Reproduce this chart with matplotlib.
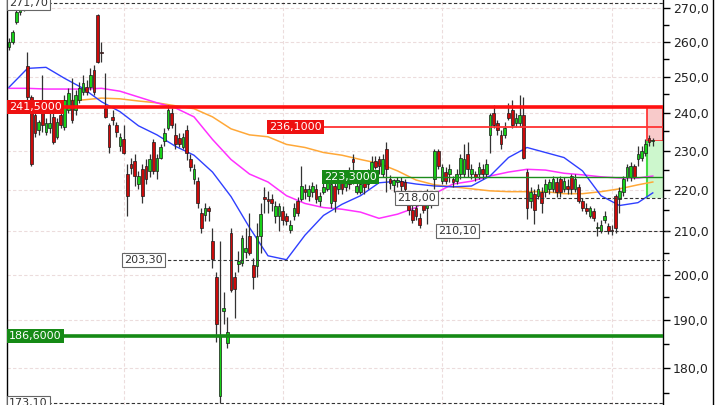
import matplotlib
matplotlib.use("Agg")
import matplotlib.pyplot as plt
import numpy as np
from matplotlib.patches import Rectangle
from matplotlib.lines import Line2D
from matplotlib.ticker import FixedLocator, NullFormatter, FuncFormatter

opens = [258.5, 260.0, 265.8, 268.8, 270.3, 253.0, 244.3, 239.4, 235.4, 240.0,
         234.9, 236.0, 238.9, 233.6, 239.4, 236.3, 240.8, 243.5, 240.8, 243.5,
         245.7, 247.0, 247.0, 251.8, 268.0, 257.0, 241.3, 236.8, 238.9, 236.8,
         231.1, 232.9, 224.0, 226.5, 227.2, 221.5, 225.2, 226.0, 224.8, 232.1,
         224.8, 228.2, 232.4, 236.0, 240.0, 234.1, 233.3, 230.8, 235.4, 227.7,
         222.7, 222.2, 214.3, 213.8, 215.5, 207.7, 199.4, 174.5, 191.9, 185.1,
         209.6, 199.4, 202.5, 202.7, 205.2, 208.9, 202.2, 202.0, 208.9, 218.4,
         217.9, 217.9, 213.6, 213.6, 214.8, 213.6, 210.4, 213.6, 217.2, 217.9,
         220.3, 218.6, 219.6, 220.3, 217.2, 219.6, 220.3, 216.7, 221.0, 220.3,
         221.8, 220.8, 222.7, 227.7, 219.6, 219.6, 222.7, 221.5, 224.0, 227.2,
         227.7, 224.0, 230.3, 222.7, 221.3, 222.0, 222.2, 222.0, 216.7, 215.0,
         215.5, 213.1, 216.7, 215.5, 216.7, 222.7, 229.8, 222.2, 224.5, 224.0,
         222.7, 222.2, 224.0, 224.0, 229.0, 224.0, 224.0, 224.0, 225.2, 224.0,
         234.1, 240.0, 237.3, 234.1, 234.1, 240.0, 240.8, 237.3, 237.3, 239.4,
         224.5, 217.2, 219.1, 218.6, 219.6, 219.6, 220.3, 220.3, 222.0, 222.7,
         220.3, 221.0, 223.5, 220.3, 220.8, 217.4, 215.5, 213.6, 214.8, 210.7,
         210.2, 212.6, 211.2, 210.4, 218.6, 217.9, 219.6, 223.3, 223.3, 226.0,
         227.7, 228.2, 229.5, 233.3, 232.4]
highs = [261.1, 263.4, 271.0, 271.3, 271.7, 257.0, 244.8, 240.8, 238.1, 250.4,
         238.6, 240.0, 240.0, 238.6, 241.3, 244.8, 246.7, 249.6, 246.2, 248.4,
         250.4, 249.0, 252.3, 253.2, 268.3, 260.0, 250.9, 237.3, 240.8, 237.6,
         234.6, 236.8, 226.5, 228.2, 229.0, 224.8, 226.5, 227.7, 229.0, 232.9,
         229.0, 231.6, 236.0, 242.1, 241.3, 237.3, 234.6, 234.6, 236.8, 229.0,
         226.5, 223.3, 215.5, 216.7, 216.0, 210.7, 200.5, 207.7, 196.1, 190.7,
         210.7, 200.5, 205.4, 209.1, 210.7, 214.3, 203.8, 211.9, 216.7, 220.8,
         219.8, 219.1, 217.2, 216.7, 216.0, 214.3, 212.6, 216.7, 218.4, 226.0,
         221.5, 221.3, 222.0, 221.5, 219.6, 222.0, 223.3, 222.7, 222.2, 222.7,
         223.3, 224.2, 225.7, 229.0, 221.8, 222.7, 224.0, 225.2, 228.5, 228.5,
         228.5, 229.0, 232.1, 223.8, 222.7, 223.3, 223.3, 222.7, 218.4, 216.7,
         217.4, 214.3, 218.6, 220.3, 219.8, 230.3, 230.3, 226.5, 225.7, 226.5,
         223.5, 225.2, 229.0, 231.6, 232.1, 226.5, 224.8, 227.0, 226.5, 227.7,
         240.0, 242.1, 238.1, 235.4, 237.6, 242.7, 243.5, 240.0, 244.8, 244.3,
         225.2, 220.8, 220.3, 221.5, 220.8, 222.7, 222.7, 223.5, 223.3, 223.5,
         223.3, 222.7, 224.0, 224.0, 221.5, 218.1, 216.7, 216.2, 215.5, 212.2,
         212.6, 214.8, 211.9, 211.4, 219.1, 220.8, 223.5, 226.5, 227.0, 226.5,
         231.1, 231.1, 232.9, 234.1, 233.3]
lows = [257.6, 259.4, 265.2, 268.0, 269.2, 243.5, 226.0, 233.6, 234.1, 234.9,
        234.1, 234.6, 231.6, 232.9, 236.0, 235.4, 240.0, 237.3, 239.4, 242.7,
        244.8, 244.8, 246.2, 244.8, 253.8, 254.1, 238.5, 229.5, 236.8, 233.6,
        229.8, 229.0, 213.6, 224.0, 221.0, 220.3, 216.7, 221.5, 223.3, 224.0,
        222.7, 227.7, 231.1, 235.4, 236.0, 230.3, 230.8, 230.3, 227.5, 224.8,
        221.5, 215.5, 209.6, 212.4, 212.4, 201.6, 185.5, 173.1, 189.3, 184.1,
        196.1, 190.5, 200.5, 202.0, 203.8, 204.5, 196.8, 199.4, 205.0, 214.3,
        214.3, 214.8, 211.9, 210.0, 211.4, 211.4, 209.6, 212.6, 213.6, 217.4,
        217.9, 217.4, 218.4, 216.7, 216.0, 218.9, 219.8, 215.5, 214.6, 219.1,
        219.1, 219.8, 220.3, 221.5, 219.1, 218.9, 219.1, 220.3, 222.7, 225.2,
        224.0, 223.3, 219.6, 220.3, 219.6, 220.8, 219.8, 218.6, 213.8, 211.9,
        212.6, 210.7, 214.3, 211.7, 215.5, 220.3, 225.2, 221.5, 221.5, 222.0,
        220.8, 221.5, 222.7, 223.3, 223.3, 222.7, 222.2, 222.7, 222.7, 223.3,
        229.5, 236.0, 234.1, 230.3, 233.3, 238.1, 236.0, 236.3, 236.3, 227.7,
        212.9, 215.5, 211.7, 217.9, 214.3, 218.4, 219.1, 219.6, 218.4, 218.4,
        219.6, 219.1, 219.1, 219.6, 216.7, 214.8, 214.1, 213.1, 212.4, 209.0,
        209.6, 211.9, 209.3, 209.2, 209.6, 214.3, 218.6, 222.2, 222.2, 222.7,
        226.0, 227.2, 228.5, 231.3, 231.3]
closes = [260.0, 262.8, 268.8, 270.1, 269.6, 244.3, 226.5, 234.6, 237.6, 236.8,
          237.3, 237.3, 232.3, 237.6, 236.8, 243.5, 245.4, 238.1, 244.8, 246.7,
          248.1, 245.7, 250.4, 245.7, 254.1, 256.7, 238.9, 230.8, 238.1, 234.9,
          233.6, 229.5, 218.6, 225.5, 223.5, 223.5, 218.6, 222.7, 227.7, 224.8,
          228.2, 230.8, 234.6, 240.8, 236.8, 231.6, 231.6, 233.6, 229.5, 225.7,
          225.2, 216.7, 210.7, 215.5, 214.8, 203.6, 189.3, 186.9, 192.7, 187.6,
          196.6, 196.8, 203.2, 208.4, 206.1, 205.0, 199.4, 208.9, 214.1, 217.7,
          217.2, 216.7, 216.0, 216.2, 212.7, 212.4, 211.4, 215.5, 214.3, 221.0,
          219.6, 220.3, 221.0, 217.9, 218.6, 220.8, 222.2, 221.5, 217.2, 221.8,
          220.3, 222.7, 221.5, 227.0, 221.0, 221.5, 220.8, 224.0, 227.0, 225.7,
          226.0, 227.7, 225.2, 221.8, 222.5, 222.5, 221.0, 220.3, 215.0, 212.6,
          213.6, 211.4, 215.0, 217.2, 218.4, 229.8, 226.0, 225.7, 222.2, 225.2,
          222.0, 224.0, 228.2, 227.7, 225.2, 225.2, 223.3, 225.7, 224.0, 226.5,
          239.4, 236.8, 235.4, 231.6, 236.0, 238.6, 236.8, 238.6, 239.4, 228.2,
          215.5, 219.6, 215.0, 220.3, 216.7, 221.5, 222.0, 222.7, 219.6, 219.6,
          222.2, 220.3, 220.3, 222.7, 217.4, 215.5, 214.8, 215.5, 213.1, 210.9,
          211.4, 213.6, 210.0, 210.0, 210.7, 219.8, 222.7, 225.7, 226.0, 223.3,
          229.0, 229.8, 231.6, 232.1, 232.6]

# moving averages read every 5 sessions (last one at the final session)
ma_fast = [247.0, 252.3, 252.6, 249.5, 246.7, 243.0, 240.3, 236.5, 234.1, 231.1,
           228.8, 224.5, 218.4, 210.9, 204.3, 203.4, 209.1, 213.8, 216.5, 218.6,
           221.8, 222.2, 221.5, 221.0, 220.8, 221.0, 223.5, 228.2, 230.8, 229.5,
           228.2, 224.8, 218.6, 216.2, 216.9, 219.3]
ma_mid = [246.7, 246.7, 246.5, 246.5, 246.5, 246.7, 245.9, 244.3, 242.7, 241.3,
          238.9, 232.9, 227.7, 224.0, 222.0, 218.6, 216.7, 215.7, 215.3, 214.6,
          213.1, 214.1, 215.7, 219.1, 221.5, 222.2, 223.5, 224.5, 225.2, 225.0,
          224.2, 223.8, 223.3, 223.0, 223.0, 223.5]
ma_slow = [243.0, 243.0, 243.0, 243.2, 243.5, 244.0, 243.8, 243.2, 242.7, 241.9,
           241.1, 238.9, 235.7, 234.1, 233.6, 231.6, 230.8, 229.5, 228.8, 227.7,
           226.7, 224.8, 222.5, 221.3, 220.8, 220.3, 219.8, 219.6, 219.6, 219.6,
           219.1, 219.1, 219.6, 220.3, 221.3, 222.0]

month_starts = [31, 74, 117, 163]

# horizontal levels
hi_level, lo_level = 271.70, 173.10
res_main, res_2 = 241.5, 236.1
sup_main, sup_2 = 186.6, 223.3
dash_levels = [218.00, 210.10, 203.30]
dash_starts = [104.6, 115.7, 30.8]
res_2_start, sup_2_start = 70.0, 84.9
zone_low = 218.0

y_ticks = list(range(180, 271, 10))

n = len(closes)
ma_idx = list(range(0, n, 5)) + [n - 1]

fig = plt.figure(figsize=(7.2, 4.05), dpi=100)
fig.patch.set_facecolor("white")
ax = fig.add_axes([7 / 720, 0, 656 / 720, 1])
ax.set_yscale("log")
ax.set_ylim(172.7, 272.5)
xmin, xmax = -0.54, 176.76
ax.set_xlim(xmin, xmax)
ax.set_facecolor("white")

grid_kw = dict(color="#ecdcdc", lw=0.8, ls=(0, (3, 2)), zorder=0)
for v in y_ticks:
    ax.axhline(v, **grid_kw)
for m in month_starts:
    ax.axvline(m, **grid_kw)

# zones at right
last = closes[-1]
zx = n - 2.5
ax.add_patch(Rectangle((zx, last), xmax - zx, res_main - last, fc="#f8caca",
                       ec="#ff2a2a", lw=1.2, zorder=1))
ax.add_patch(Rectangle((zx, zone_low), xmax - zx, last - zone_low, fc="#cdf7cd",
                       ec="none", zorder=1))
ax.vlines(zx, zone_low, last, color="#44dd44", lw=1.5, zorder=1.5)

# moving averages
ax.plot(ma_idx, ma_slow, color="#ffa838", lw=1.1, zorder=2)
ax.plot(ma_idx, ma_mid, color="#ff30ff", lw=1.1, zorder=2)
ax.plot(ma_idx, ma_fast, color="#2f3fff", lw=1.0, zorder=2)

# candles
for i in range(n):
    o, h, l, c = opens[i], highs[i], lows[i], closes[i]
    ax.vlines(i, l, h, color="#333333", lw=0.9, zorder=3)
    up = c >= o
    b0, b1 = min(o, c), max(o, c)
    if b1 - b0 < 0.35:
        b1 = b0 + 0.35
    ax.add_patch(Rectangle((i - 0.36, b0), 0.72, b1 - b0,
                           fc="#18d018" if up else "#cc0a0a",
                           ec="#1a1a1a", lw=0.5, zorder=4))

# level lines
ax.axhline(res_main, color="#ff1010", lw=2.6, zorder=5)
ax.hlines(res_2, res_2_start, xmax, color="#ff3333", lw=1.3, zorder=5)
ax.hlines(sup_2, sup_2_start, xmax, color="#1c8c1c", lw=1.0, zorder=5)
ax.axhline(sup_main, color="#158a15", lw=2.6, zorder=5)
ax.hlines(hi_level, 0, xmax, color="#333333", lw=0.8, ls=(0, (3, 2)), zorder=5)
ax.hlines(lo_level, 0, xmax, color="#333333", lw=0.8, ls=(0, (3, 2)), zorder=5)
for v, s in zip(dash_levels, dash_starts):
    ax.hlines(v, s, xmax + 1.5, color="#333333", lw=0.8, ls=(0, (3, 2)),
              zorder=5, clip_on=False)

def fmt(v, d):
    return f"{v:.{d}f}".replace(".", ",")

def box(x, y, s, fc, tc, ec="none"):
    ax.text(x, y, s, fontsize=8, color=tc, ha="left", va="center", zorder=7,
            bbox=dict(boxstyle="square,pad=0.18", fc=fc, ec=ec, lw=0.8))

box(0.0, res_main, fmt(res_main, 4), "#ee1111", "white")
box(0.0, sup_main, fmt(sup_main, 4), "#168a16", "white")
box(res_2_start + 0.3, res_2, fmt(res_2, 4), "#ee1111", "white")
box(sup_2_start + 0.3, sup_2, fmt(sup_2, 4), "#168a16", "white")
box(0.0, hi_level, fmt(hi_level, 2), "white", "#333333", "#666666")
box(0.0, lo_level, fmt(lo_level, 2), "white", "#333333", "#666666")
for v, s in zip(dash_levels, dash_starts):
    box(s + 0.3, v, fmt(v, 2), "white", "#333333", "#666666")

# axes
ax.yaxis.tick_right()
ax.yaxis.set_major_locator(FixedLocator(y_ticks))
ax.yaxis.set_minor_locator(FixedLocator([v + 5 for v in range(170, 271, 10)]))
ax.yaxis.set_major_formatter(FuncFormatter(lambda v, p: fmt(v, 1)))
ax.yaxis.set_minor_formatter(NullFormatter())
ax.tick_params(axis="y", which="major", length=5, width=1, colors="black",
               labelsize=9, pad=2, labelcolor="#222222")
ax.tick_params(axis="y", which="minor", length=4, width=1, colors="black")
ax.tick_params(axis="x", bottom=False, labelbottom=False)
for sp in ["top", "bottom"]:
    ax.spines[sp].set_visible(False)
for sp in ["left", "right"]:
    ax.spines[sp].set_color("black")
    ax.spines[sp].set_linewidth(1.0)

fig.add_artist(Line2D([713 / 720, 713 / 720], [0, 1], color="black", lw=1,
                      transform=fig.transFigure))

fig.savefig("out.png", dpi=100)
